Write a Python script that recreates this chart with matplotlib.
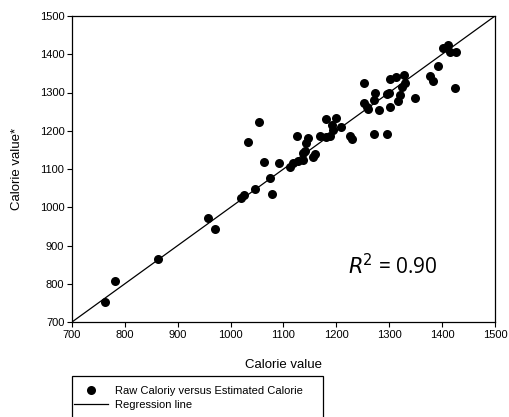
import matplotlib

matplotlib.use("Agg")
import matplotlib.pyplot as plt
import numpy as np
from matplotlib.patches import Rectangle

# raw calorie vs estimated calorie
raw_calorie = [
    763, 782, 862, 958, 971, 1020, 1025, 1047, 1075, 1079,
    1064, 1091, 1033, 1053, 1125, 1112, 1118, 1128, 1136, 1137,
    1140, 1142, 1147, 1155, 1159, 1169, 1181, 1181, 1188, 1191,
    1194, 1200, 1209, 1226, 1229, 1252, 1253, 1257, 1260, 1273,
    1272, 1280, 1272, 1296, 1295, 1300, 1302, 1312, 1302, 1317,
    1320, 1325, 1330, 1328, 1349, 1377, 1383, 1393, 1402, 1412,
    1415, 1426, 1425,
]
estimated_calorie = [
    751, 807, 865, 972, 943, 1025, 1032, 1048, 1076, 1035,
    1117, 1115, 1170, 1222, 1186, 1105, 1116, 1121, 1124, 1141,
    1148, 1167, 1180, 1132, 1139, 1187, 1230, 1184, 1187, 1215,
    1202, 1234, 1211, 1186, 1178, 1324, 1272, 1263, 1257, 1300,
    1280, 1253, 1191, 1191, 1295, 1299, 1334, 1340, 1261, 1278,
    1293, 1315, 1324, 1347, 1286, 1343, 1331, 1369, 1416, 1424,
    1407, 1407, 1311,
]

line_x = [700, 1500]
slope, intercept = 1.0, 0.0
r_squared = 0.90

x_ticks = list(range(700, 1501, 100))
y_ticks = list(range(700, 1501, 100))

plt.rcParams["font.family"] = ["Liberation Sans", "DejaVu Sans"]

W, H = 509, 417
fig = plt.figure(figsize=(W / 100, H / 100), dpi=100)
ax = fig.add_axes([72 / W, 1 - 322 / H, (495 - 72) / W, (322 - 16) / H])

pts, = ax.plot(raw_calorie, estimated_calorie, "o", color="black", ms=6.5,
               markeredgewidth=0, label="Raw Caloriy versus Estimated Calorie")
lx = np.array(line_x, dtype=float)
reg, = ax.plot(lx, slope * lx + intercept, color="black", lw=0.9, label="Regression line")

ax.set_xlim(700, 1500)
ax.set_ylim(700, 1500)
ax.set_xticks(x_ticks)
ax.set_yticks(y_ticks)
ax.tick_params(direction="out", length=3.5, width=0.8, labelsize=8, pad=2)
for s in ax.spines.values():
    s.set_linewidth(0.9)

ax.set_xlabel("Calorie value", fontsize=9.5, labelpad=14)
ax.set_ylabel("Calorie value*", fontsize=9.5, labelpad=12)

ax.text(1307, 845, rf"$\it{{R}}$$^2$ = {r_squared:.2f}", fontsize=15,
        family="Open Sans", ha="center", va="center")

# legend box runs off the bottom of the figure in the original
fig.patches.append(Rectangle((72 / W, -0.02), (323 - 72) / W, 0.02 + 1 - 376 / H,
                             transform=fig.transFigure, fill=False,
                             edgecolor="black", lw=0.9))
fig.legend(handles=[pts, reg], loc="upper left",
           bbox_to_anchor=(72 / W, 1 - 384 / H), fontsize=8,
           frameon=False, borderpad=0.2, handlelength=3.0, handletextpad=0.7,
           labelspacing=0.35, borderaxespad=0)

fig.savefig("out.png", dpi=100)
